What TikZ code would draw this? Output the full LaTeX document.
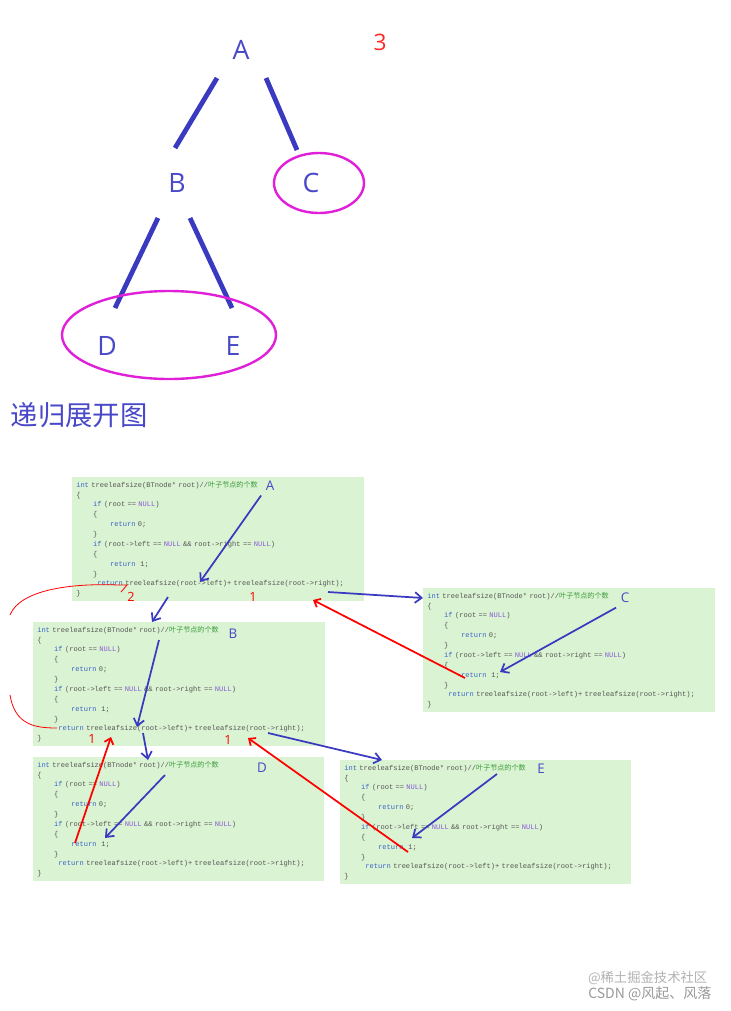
\documentclass[tikz,border=0pt]{standalone}
\usepackage{fontspec}
\setmainfont{Open Sans}
\setmonofont{Liberation Mono}
\newfontfamily\cjk{Noto Sans CJK SC}
\usetikzlibrary{arrows.meta}
\definecolor{kw}{HTML}{3A62C8}
\definecolor{tx}{HTML}{555555}
\definecolor{nl}{HTML}{8A5AD8}
\definecolor{cm}{HTML}{3A9A3A}
\definecolor{bx}{HTML}{DAF3D2}
\definecolor{lab}{HTML}{4848C8}
\definecolor{edge}{HTML}{3A3AC0}
\definecolor{mag}{HTML}{E020D8}
\newcommand\mi{\phantom{xxxx}}
\newcommand\codetext{%
{\color{kw}int} treeleafsize(BTnode* root)//{\cjk\color{cm}叶子节点的个数}\\
\{\\
\mi{\color{kw}if} (root == {\color{nl}NULL})\\
\mi\{\\
\mi\mi{\color{kw}return} 0;\\
\mi\}\\
\mi{\color{kw}if} (root->left == {\color{nl}NULL} \&\& root->right == {\color{nl}NULL})\\
\mi\{\\
\mi\mi{\color{kw}return}\ \ 1;\\
\mi\}\\
\phantom{xxxxx}{\color{kw}return} treeleafsize(root->left)+ treeleafsize(root->right);\\
\}}
\tikzset{
 codebox/.style={anchor=north west,fill=bx,draw=none,text width=#1,minimum height=92pt,
   align=left,inner xsep=3pt,inner ysep=3pt,font=\ttfamily\fontsize{5.3}{7.4}\selectfont,text=tx},
 lbl/.style={text=lab,font=\fontsize{10}{12}\selectfont},
 rnum/.style={text=red,font=\fontsize{9.5}{11}\selectfont},
 barr/.style={draw=edge,line width=1.3pt,-{Straight Barb[length=5pt,width=8pt]}},
 rarr/.style={draw=red,line width=1.3pt,-{Straight Barb[length=4pt,width=7pt]}},
 treel/.style={text=lab,font=\fontsize{20}{22}\selectfont},
 tedge/.style={draw=edge,line width=3.6pt}
}
\begin{document}
\begin{tikzpicture}[x=0.75pt,y=-0.75pt]
\useasboundingbox[fill=white] (0,0) rectangle (731,1011);
% tree
\node[treel] (A) at (241,50) {A};
\node[treel] (B) at (177,183) {B};
\node[treel] (C) at (311,183) {C};
\node[treel] (D) at (107,346) {D};
\node[treel] (E) at (233,346) {E};
\node[text=red!85!white,font=\fontsize{17}{20}\selectfont] (three) at (380,42) {3};
\coordinate (ab1) at (217,78); \coordinate (ab2) at (175,148);
\coordinate (ac1) at (266,78); \coordinate (ac2) at (297,150);
\coordinate (bd1) at (158,218); \coordinate (bd2) at (115,308);
\coordinate (be1) at (190,218); \coordinate (be2) at (232,308);
\draw[tedge] (ab1)--(ab2); \draw[tedge] (ac1)--(ac2);
\draw[tedge] (bd1)--(bd2); \draw[tedge] (be1)--(be2);
\draw[mag,line width=1.8pt] (319,183) ellipse [x radius=45,y radius=30];
\draw[mag,line width=1.8pt] (169,335) ellipse [x radius=107,y radius=44];
\node[anchor=west,text=lab,font=\cjk\fontsize{20.5}{24}\selectfont] (title) at (6,415) {递归展开图};
% code boxes
\node[codebox=213pt] (bA) at (72,477) {\codetext};
\node[codebox=213pt] (bC) at (423,588) {\codetext};
\node[codebox=213pt] (bB) at (33,622) {\codetext};
\node[codebox=212pt] (bD) at (33,757) {\codetext};
\node[codebox=212pt] (bE) at (340,760) {\codetext};
\node[lbl] (lA) at (270,486) {A};
\node[lbl] (lB) at (233,634) {B};
\node[lbl] (lC) at (625,598) {C};
\node[lbl] (lD) at (262,768) {D};
\node[lbl] (lE) at (541,769) {E};
% blue arrows
\coordinate (a1) at (200,582); \draw[barr] (lA.south west) -- (a1);
\coordinate (a2s) at (168,597); \coordinate (a2e) at (152,622); \draw[barr] (a2s)--(a2e);
\coordinate (a3s) at (328,592); \draw[barr] (a3s)--(bC.west|-598,598);
\coordinate (c1) at (500,672); \draw[barr] (lC.south west) -- (c1);
\coordinate (b1) at (137,727); \draw[barr] (159,640) -- (b1);
\coordinate (b2s) at (143,733); \coordinate (b2e) at (148,760); \draw[barr] (b2s)--(b2e);
\coordinate (b3s) at (268,733); \coordinate (b3e) at (382,760); \draw[barr] (b3s)--(b3e);
\coordinate (d1) at (105,838); \draw[barr] (165,775) -- (d1);
\coordinate (e1) at (412,838); \draw[barr] (497,774) -- (e1);
% red
\node[rnum] (n2) at (131,597) {2};
\node[rnum] (n1a) at (253,597) {1};
\node[rnum] (n1b) at (92,739) {1};
\node[rnum] (n1c) at (228,740) {1};
\draw[red,line width=0.6pt] (118,585) .. controls (70,583) and (20,590) .. (10,615);
\draw[red,line width=0.6pt] (118,585) -- (127,585) -- (121,592);
\draw[red,line width=0.6pt] (10,695) .. controls (15,725) and (35,728) .. (57,728);
\coordinate (rc) at (465,678); \coordinate (rct) at (313,600);
\draw[rarr] (rc) -- (rct);
\coordinate (rd) at (75,843); \coordinate (rdt) at (111,737);
\draw[rarr] (rd) -- (rdt);
\coordinate (re) at (408,852); \coordinate (ret) at (248,738);
\draw[rarr] (re) -- (ret);
% watermark
\node[anchor=east,text=gray!60,font=\cjk\fontsize{10}{12}\selectfont] (wm1) at (712,978) {@稀土掘金技术社区};
\node[anchor=east,text=gray!80,font=\cjk\fontsize{10.5}{12}\selectfont] (wm2) at (716,994) {CSDN @风起、风落};
\end{tikzpicture}
\end{document}
